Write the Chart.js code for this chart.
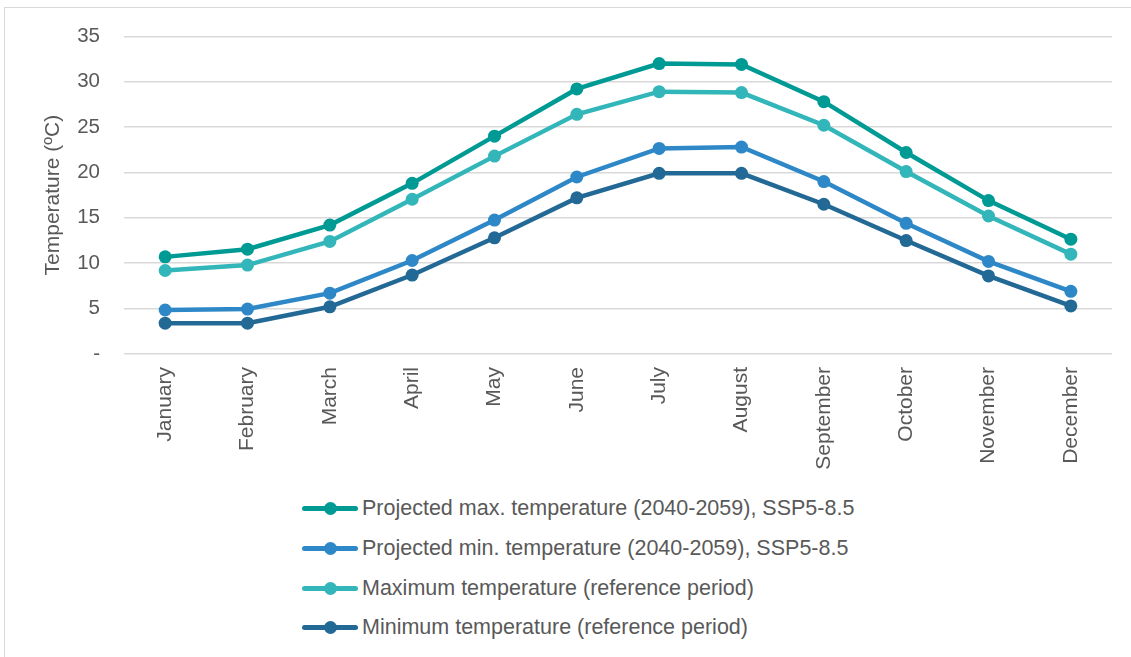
<!DOCTYPE html>
<html>
<head>
<meta charset="utf-8">
<script src="https://cdn.jsdelivr.net/npm/chart.js@4/dist/chart.umd.min.js"></script>
<style>
  body { margin: 0; background: #fff; width: 1131px; height: 657px; overflow: hidden; position: relative; font-family: "Liberation Sans", Arial, sans-serif; }
  #frame { position: absolute; left: 4px; top: 7px; width: 1200px; height: 700px; border: 1px solid #d9d9d9; }
  #chartBox { position: absolute; left: 0; top: 0; width: 1131px; height: 485px; }
  #legend { position: absolute; left: 302px; top: 489px; list-style: none; margin: 0; padding: 0; }
  #legend li { height: 39.7px; display: flex; align-items: center; color: #595959; font-size: 21.5px; white-space: nowrap; }
  #legend .swatch { position: relative; width: 56px; height: 5px; border-radius: 3px; margin-right: 4px; }
  #legend .swatch span { position: absolute; left: 22px; top: -4px; width: 13px; height: 13px; border-radius: 50%; background: inherit; }
</style>
</head>
<body>
<div id="frame"></div>
<div id="chartBox"><canvas id="tempChart"></canvas></div>
<ul id="legend"></ul>
<script>
// data
const months = ["January", "February", "March", "April", "May", "June", "July", "August", "September", "October", "November", "December"];
const projMax = [10.7, 11.55, 14.2, 18.8, 24.0, 29.2, 32.0, 31.9, 27.8, 22.2, 16.9, 12.65];
const projMin = [4.85, 4.95, 6.7, 10.3, 14.75, 19.5, 22.65, 22.8, 19.0, 14.4, 10.2, 6.9];
const refMax = [9.2, 9.8, 12.4, 17.05, 21.8, 26.4, 28.9, 28.8, 25.2, 20.1, 15.2, 11.0];
const refMin = [3.4, 3.4, 5.2, 8.7, 12.8, 17.2, 19.9, 19.9, 16.5, 12.5, 8.6, 5.3];
const yTicks = [0, 5, 10, 15, 20, 25, 30, 35];

const textColor = "#595959";
const gridColor = "#d9d9d9";

function makeSeries(label, data, color) {
  return {
    label: label,
    data: data,
    borderColor: color,
    backgroundColor: color,
    borderWidth: 4.5,
    pointRadius: 6.5,
    pointHoverRadius: 6.5,
    pointBorderWidth: 0,
    tension: 0
  };
}

const datasets = [
  makeSeries("Projected max. temperature (2040-2059), SSP5-8.5", projMax, "#009a94"),
  makeSeries("Projected min. temperature (2040-2059), SSP5-8.5", projMin, "#2e88c8"),
  makeSeries("Maximum temperature (reference period)", refMax, "#33b6b9"),
  makeSeries("Minimum temperature (reference period)", refMin, "#236996")
];

const ctx = document.getElementById("tempChart").getContext("2d");
const tempChart = new Chart(ctx, {
  type: "line",
  data: { labels: months, datasets: datasets },
  options: {
    responsive: true,
    maintainAspectRatio: false,
    animation: false,
    layout: { padding: { top: 36, right: 19, left: 0, bottom: 0 } },
    plugins: {
      legend: { display: false },
      tooltip: { enabled: false }
    },
    scales: {
      x: {
        offset: true,
        grid: { display: false, drawTicks: false },
        border: { display: false },
        ticks: {
          color: textColor,
          font: { family: "'Liberation Sans', Arial, sans-serif", size: 21 },
          minRotation: 90,
          maxRotation: 90,
          padding: 13
        },
        afterFit: function (scale) { scale.height = 485 - 354; }
      },
      y: {
        min: 0,
        max: 35,
        afterBuildTicks: function (scale) { scale.ticks = yTicks.map(v => ({ value: v })); },
        grid: { color: gridColor, lineWidth: 1.5, drawTicks: false },
        border: { display: false },
        ticks: {
          color: textColor,
          font: { family: "'Liberation Sans', Arial, sans-serif", size: 20.5 },
          padding: 24,
          callback: function (value) { return value === 0 ? "-" : value; }
        },
        title: {
          display: true,
          text: "Temperature (ºC)",
          color: textColor,
          font: { family: "'Liberation Sans', Arial, sans-serif", size: 21 },
          padding: { top: 41, bottom: 0 }
        },
        afterFit: function (scale) { scale.width = 124; }
      }
    }
  }
});

// legend as a plain vertical list, like the reference
const legendList = document.getElementById("legend");
tempChart.data.datasets.forEach(ds => {
  const li = document.createElement("li");
  li.innerHTML = `<div class="swatch" style="background:${ds.borderColor}"><span></span></div>${ds.label}`;
  legendList.appendChild(li);
});
</script>
</body>
</html>
